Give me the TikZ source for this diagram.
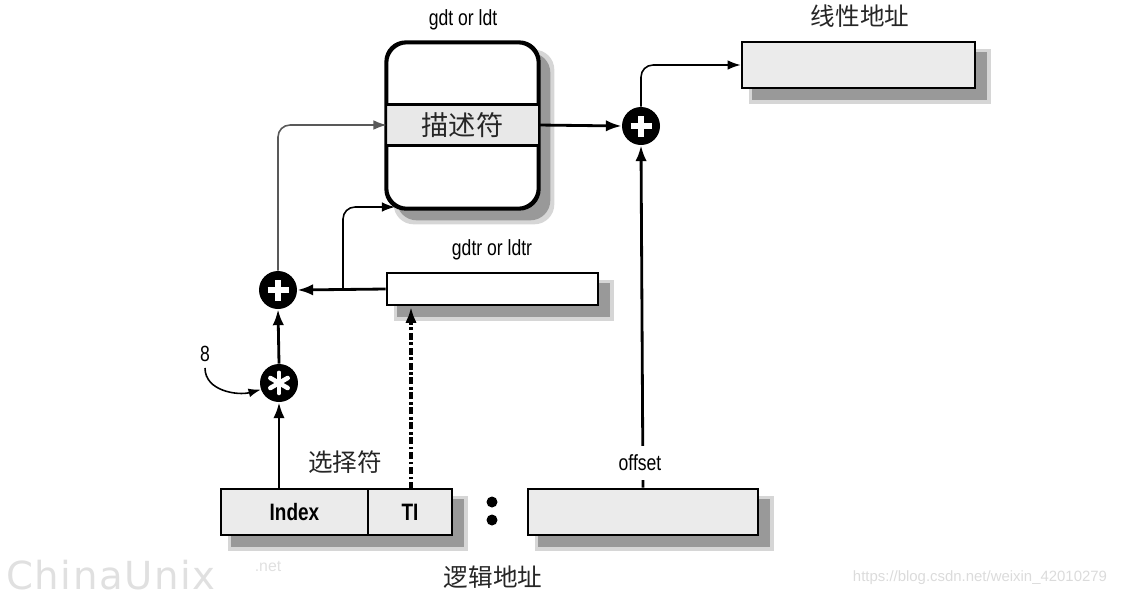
\documentclass[tikz,border=0pt]{standalone}
\usepackage{fontspec}
\setmainfont{Liberation Sans}
\newfontfamily\cjk{Noto Sans CJK SC}
\newfontfamily\narrowfont[FakeStretch=0.8]{Liberation Sans}
\newfontfamily\wmfont[LetterSpace=4]{DejaVu Sans}
\usetikzlibrary{arrows.meta,fit,backgrounds,calc}

% soft drop shadow behind a rectangular region, given by two corner nodes
\newcommand\dropshadow[3][0pt]{%
  \fill[black!16,rounded corners=#1] ($(#2.north west)+(8,8)$) rectangle ($(#3.south east)+(15,15)$);
  \fill[black!40,rounded corners=#1] ($(#2.north west)+(11,11)$) rectangle ($(#3.south east)+(11,11)$);
}

\begin{document}
\begin{tikzpicture}[x=0.02cm,y=-0.02cm,
  box/.style={draw=black, line width=1.5pt, inner sep=0pt, fill=black!8},
  wbox/.style={box, fill=white},
  thickarrow/.style={line width=1.6pt, -{Latex[length=9pt,width=6.5pt]}},
  thinarrow/.style={line width=0.9pt, -{Latex[length=7.5pt,width=5.5pt]}, rounded corners=0.24cm},
  opcircle/.style={circle, fill=black, minimum size=0.76cm, inner sep=0pt},
  plusop/.style={opcircle, path picture={
      \draw[white,line width=3.2pt] ([xshift=-0.21cm]path picture bounding box.center) -- ([xshift=0.21cm]path picture bounding box.center);
      \draw[white,line width=3.2pt] ([yshift=-0.21cm]path picture bounding box.center) -- ([yshift=0.21cm]path picture bounding box.center);}},
  starop/.style={opcircle, path picture={
      \foreach \a in {90,150,...,450}
        \draw[white,line width=2.6pt,line cap=round] (path picture bounding box.center) -- ++(\a:0.2cm);}},
  cn/.style={font=\cjk\fontsize{14}{16}\selectfont, text=black!85},
  lbl/.style={font=\narrowfont\fontsize{12.5}{14}\selectfont},
  bold/.style={font=\narrowfont\bfseries\fontsize{13.5}{15}\selectfont},
  wmark/.style={text=black!12}
]
\useasboundingbox (0,0) rectangle (1126,596);

% ---- boxes ----
\node[box, rounded corners=0.4cm, fill=white, fit={(387,43)(538,208)}] (gdt) {};
\node[fit={(387,105)(538,145)}, inner sep=0pt, fill=black!9] (desc) {};
\draw[line width=1.5pt] (desc.north west) -- (desc.north east) (desc.south west) -- (desc.south east);
\draw[line width=1.5pt, rounded corners=0.4cm] (gdt.north west) rectangle (gdt.south east);
\node[cn, font=\cjk\fontsize{15.5}{17}\selectfont] at (desc.center) {描述符};

\node[box, fit={(742,42)(975,88)}] (lin) {};
\node[wbox, fit={(387,273)(598,305)}] (gdtr) {};
\node[box, fit={(221,489)(368,535)}] (idx) {};
\node[box, fit={(368,489)(452,535)}] (ti) {};
\node[box, fit={(528,489)(758,535)}] (off) {};
\node[bold] at (idx.center) {Index};
\node[bold] at (ti.center) {TI};

\begin{scope}[on background layer]
  \dropshadow[0.4cm]{gdt}{gdt}
  \dropshadow{lin}{lin}
  \dropshadow{gdtr}{gdtr}
  \dropshadow{idx}{ti}
  \dropshadow{off}{off}
\end{scope}

% ---- operators ----
\node[plusop] (plusR) at (641,126) {};
\node[plusop] (plusL) at (278,290) {};
\node[starop] (star) at (279,383) {};

% ---- labels ----
\node[lbl] (gdtlbl) at (463,20) {gdt or ldt};
\node[cn] (linlbl) at (860,16) {线性地址};
\node[lbl] (gdtrlbl) at (492,250) {gdtr or ldtr};
\node[cn] (sellbl) at (345,462) {选择符};
\node[cn] (logLbl) at (493,577) {逻辑地址};
\node[lbl] (eight) at (205,354) {8};

% colon between selector and offset
\fill (492,502) circle (0.11cm) (492,520) circle (0.11cm);

% ---- connectors ----
\draw[thickarrow] (desc.east) -- (plusR.west);
\draw[thinarrow] (plusR.north) |- (lin.west);
\draw[thickarrow] (off.north) -- (plusR.south);
\node[lbl, fill=white, inner ysep=5pt, inner xsep=2pt] (offlbl) at (640,463) {offset};

\draw[thickarrow] (gdtr.west) -- (plusL.east);
\coordinate (br) at (343,289);
\coordinate (gdtin) at (395,207);
\draw[thinarrow] (br) |- (gdtin);
\draw[thinarrow, draw=black!65] (plusL.north) |- (desc.west);

\draw[thickarrow] (star.north) -- (plusL.south);
\draw[thickarrow] (star.south |- idx.north) -- (star.south);
\draw[thickarrow, line width=2pt, dash pattern=on 4pt off 1.5pt on 1.5pt off 1.5pt] (411,489) -- (411,307);
\draw[line width=0.9pt, -{Latex[length=7pt,width=5pt]}] (eight.south) to[out=-90,in=195] (star.200);

% ---- watermarks ----
\node[wmark, inner sep=0pt, anchor=base west, font=\wmfont\fontsize{22}{22}\selectfont] (wm) at (6,589) {ChinaUnix};
\node[wmark, font=\fontsize{9}{10}\selectfont] (wmnet) at (268,566) {.net};
\node[text=black!14, font=\fontsize{8.5}{10}\selectfont] (url) at (980,578) {https://blog.csdn.net/weixin\_42010279};
\end{tikzpicture}
\end{document}
